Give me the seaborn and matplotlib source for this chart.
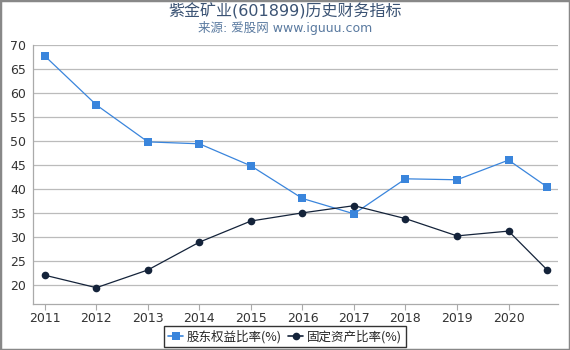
import matplotlib
matplotlib.use("Agg")
import matplotlib.pyplot as plt
import seaborn as sns
import pandas as pd
from matplotlib.patches import Rectangle

years = [2011, 2012, 2013, 2014, 2015, 2016, 2017, 2018, 2019, 2020, 2020.75]
equity_ratio = [67.7, 57.5, 49.8, 49.4, 44.8, 38.0, 34.8, 42.1, 41.9, 46.0, 40.4]
fixed_ratio = [22.0, 19.4, 23.1, 28.9, 33.3, 35.0, 36.5, 33.8, 30.2, 31.2, 23.1]
tick_years = [2011, 2012, 2013, 2014, 2015, 2016, 2017, 2018, 2019, 2020]
y_ticks = [20, 25, 30, 35, 40, 45, 50, 55, 60, 65, 70]
name_a = "股东权益比率(%)"
name_b = "固定资产比率(%)"

sns.set_theme(style="white")
plt.rcParams['font.family'] = ['DejaVu Sans', 'Noto Sans CJK SC']

df = pd.DataFrame({"x": years + years,
                   "v": equity_ratio + fixed_ratio,
                   "s": [name_a] * len(years) + [name_b] * len(years)})

fig = plt.figure(figsize=(5.7, 3.5), dpi=100)
ax = fig.add_axes([33/570, 1-304/350, (558-33)/570, (304-45)/350])

blue = "#3a85dc"
dark = "#14233a"
sns.lineplot(data=df, x="x", y="v", hue="s", style="s",
             palette={name_a: blue, name_b: dark},
             markers={name_a: "s", name_b: "o"}, dashes=False,
             markersize=5.5, linewidth=0.9, markeredgewidth=0, ax=ax)

ax.set_xlim(2010.77, 2020.96)
ax.set_ylim(16, 70)
ax.set_yticks(y_ticks)
ax.set_xticks(tick_years)
ax.set_xticklabels([str(t) for t in tick_years])
ax.set_xlabel("")
ax.set_ylabel("")
ax.grid(axis="y", color="#bbbbbb", linewidth=0.9)
ax.grid(axis="x", visible=False)
for side in ["top", "right"]:
    ax.spines[side].set_visible(False)
for side in ["left", "bottom"]:
    ax.spines[side].set_color("#aaaaaa")
    ax.spines[side].set_linewidth(0.9)
ax.tick_params(axis="y", length=0, labelsize=9, colors="#333333", pad=5)
ax.tick_params(axis="x", length=4, width=0.8, color="#aaaaaa", bottom=True,
               labelsize=9, labelcolor="#333333", pad=2)

leg = ax.legend(loc="upper center", bbox_to_anchor=(0.5 - (33 + 525/2 - 285)/525, -0.06),
                ncol=2, frameon=True, handlelength=1.2,
                handletextpad=0.3, columnspacing=0.5, borderpad=0.3,
                fancybox=False, prop={'family': ['Noto Sans CJK SC', 'DejaVu Sans'], 'size': 9})
leg.get_frame().set_edgecolor("black")
leg.get_frame().set_linewidth(1.0)
for h in leg.legend_handles:
    h.set_linewidth(1.2)

fig.text(0.5, 1 - 11/350, "紫金矿业(601899)历史财务指标", ha="center", va="center",
         fontsize=11.5, color="#3b5374", family=['DejaVu Sans', 'Noto Sans CJK SC'])
fig.text(0.5, 1 - 28/350, "来源: 爱股网 www.iguuu.com", ha="center", va="center",
         fontsize=9, color="#5a7aa0", family=['DejaVu Sans', 'Noto Sans CJK SC'])

fig.patches.append(Rectangle((0, 0), 1, 1, transform=fig.transFigure, fill=False,
                             edgecolor="#888888", linewidth=2.5))

fig.savefig("out.png", dpi=100)
